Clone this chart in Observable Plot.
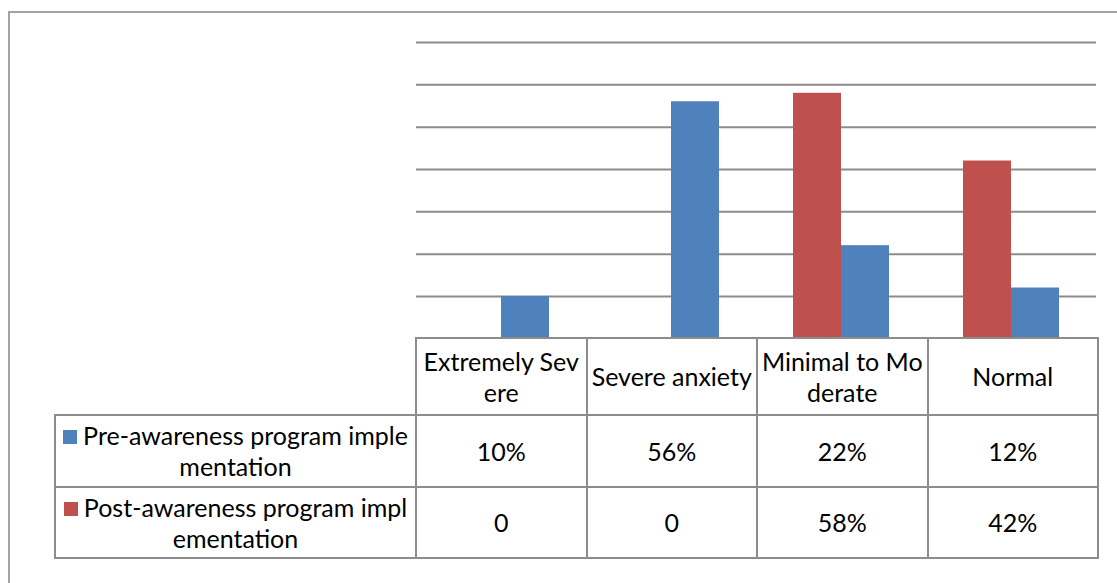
<!DOCTYPE html>
<html><head><meta charset="utf-8">
<script src="https://cdn.jsdelivr.net/npm/d3@7"></script>
<script src="https://cdn.jsdelivr.net/npm/@observablehq/plot@0.6"></script>
<style>
html,body{margin:0;padding:0;background:#fff;overflow:hidden;}
#wrap{position:relative;width:1117px;height:583px;overflow:hidden;font-family:Lato,"Open Sans",sans-serif;}
#frame{position:absolute;left:8px;top:11px;width:1200px;height:700px;border:2px solid #a3a3a3;box-sizing:border-box;}
#chart{position:absolute;left:0;top:0;}
#tbl{position:absolute;left:54px;top:337px;border-collapse:collapse;table-layout:fixed;width:1044px;}
#tbl td{border:2px solid #8c8c8c;text-align:center;vertical-align:middle;font-size:25px;line-height:31px;color:#000;padding:0;white-space:pre-line;overflow:hidden;}
#tbl td.empty{border-top:none;border-left:none;}
.sw{display:inline-block;width:14px;height:14px;margin-right:6px;vertical-align:1px;}
</style></head>
<body>
<div id="wrap"><div id="frame"></div><div id="chart"></div><table id="tbl"></table></div>
<script>
const categories = ["Extremely Severe", "Severe anxiety", "Minimal to Moderate", "Normal"];
const categoryLabels = ["Extremely Sev\nere", "Severe anxiety", "Minimal to Mo\nderate", "Normal"];
const seriesNames = ["Pre-awareness program implementation", "Post-awareness program implementation"];
const seriesLabels = ["Pre-awareness program imple\nmentation", "Post-awareness program impl\nementation"];
const preValues = [0.10, 0.56, 0.22, 0.12];
const postValues = [0, 0, 0.58, 0.42];
const seriesColors = ["#4f81bd", "#c0504d"];
const gridTicks = [0.1, 0.2, 0.3, 0.4, 0.5, 0.6, 0.7];

const rows = categories.flatMap((c, i) => [
  {category: c, series: seriesNames[1], value: postValues[i]},
  {category: c, series: seriesNames[0], value: preValues[i]}
]);

const chart = Plot.plot({
  width: 1117, height: 340,
  marginLeft: 415, marginRight: 20, marginTop: 42, marginBottom: 1.7,
  facet: {data: rows, x: "category"},
  fx: {domain: categories, padding: 0, axis: null},
  x: {domain: [seriesNames[1], seriesNames[0]], paddingInner: 0, paddingOuter: 0.76, axis: null},
  y: {domain: [0, 0.7], axis: null},
  color: {domain: seriesNames, range: seriesColors},
  style: {background: "transparent"},
  marks: [
    Plot.ruleY(gridTicks, {stroke: "#8c8c8c", strokeWidth: 2}),
    Plot.barY(rows, {x: "series", y: "value", fill: "series"})
  ]
});
document.getElementById("chart").appendChild(chart);

const fmt = v => v === 0 ? "0" : d3.format(".0%")(v);
const tbl = d3.select("#tbl");
const cg = tbl.append("colgroup");
cg.append("col").style("width", "361px");
categories.forEach(() => cg.append("col").style("width", "170.5px"));
const hr = tbl.append("tr").style("height", "77px");
hr.append("td").attr("class", "empty");
categoryLabels.forEach(l => hr.append("td").text(l));
const seriesValues = [preValues, postValues];
const rowHeights = ["72px", "71px"];
seriesNames.forEach((s, si) => {
  const tr = tbl.append("tr").style("height", rowHeights[si]);
  const lc = tr.append("td");
  lc.append("span").attr("class", "sw").style("background", seriesColors[si]);
  lc.append("span").text(seriesLabels[si]);
  seriesValues[si].forEach(v => tr.append("td").text(fmt(v)));
});
</script>
</body></html>
